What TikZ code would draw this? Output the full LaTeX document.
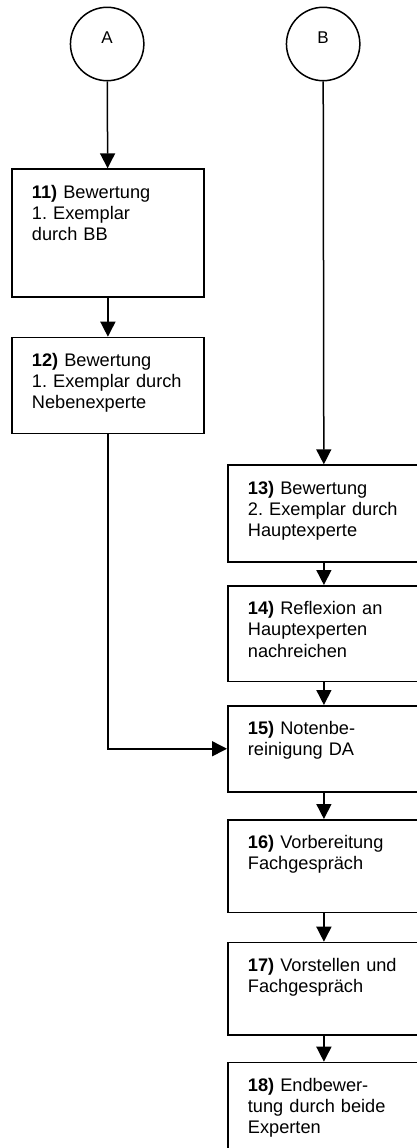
\documentclass[tikz,border=0pt]{standalone}
\usepackage{fontspec}
\setmainfont{Liberation Sans}
\frenchspacing
\usetikzlibrary{arrows.meta}

\tikzset{
  stepbox/.style={
    draw, rectangle, anchor=north west,
    text width=152pt, inner xsep=20.15pt, inner ysep=0pt,
    align=left, text height=29pt,
    font=\fontsize{18.2}{21.2}\selectfont
  },
  jumpnode/.style={
    draw, circle, minimum size=73.4pt, inner sep=0pt,
    text height=5pt, text depth=5pt,
    font=\fontsize{17}{20}\selectfont
  }
}

\begin{document}
\begin{tikzpicture}[x=1pt, y=-1pt, line width=1.5pt, >={Triangle[length=15pt,width=15pt]}]

\useasboundingbox (0,0) rectangle (417,1148);
\clip (0,0) rectangle (417,1148);

% Anschlusspunkte

\node[jumpnode] (A) at (107.15,44) {A};

\node[jumpnode] (B) at (323.15,44) {B};

% Schritte

\node[stepbox, text depth=98.7pt] (s11) at (11,168.3) {\textbf{11)} Bewertung\\1. Exemplar\\durch BB};

\node[stepbox, text depth=67pt] (s12) at (11,336.7) {\textbf{12)} Bewertung\\1.~Exemplar~durch\\Nebenexperte};

\node[stepbox, text depth=67.7pt] (s13) at (227,464.3) {\textbf{13)} Bewertung\\2.~Exemplar~durch\\Hauptexperte};

\node[stepbox, text depth=66.7pt] (s14) at (227,585) {\textbf{14)} Reflexion an\\Hauptexperten\\nachreichen};

\node[stepbox, text depth=57pt] (s15) at (227,705) {\textbf{15)} Notenbe-\\reinigung DA};

\node[stepbox, text depth=63.7pt] (s16) at (227,819) {\textbf{16)} Vorbereitung\\Fachgespräch};

\node[stepbox, text depth=63.3pt] (s17) at (227,941.7) {\textbf{17)}~Vorstellen~und\\Fachgespräch};

\node[stepbox, text depth=66pt] (s18) at (227,1061.7) {\textbf{18)} Endbewer-\\tung~durch~beide\\Experten};

% Pfeile

\draw[->] (A) -- (s11);

\draw[->] (s11) -- (s12);

\draw[->] (B) -- (s13);

\draw[->] (s13) -- (s14);

\draw[->] (s14) -- (s15);

\draw[->] (s15) -- (s16);

\draw[->] (s16) -- (s17);

\draw[->] (s17) -- (s18);

\draw[->] (s12.south) |- (s15.west);

\end{tikzpicture}
\end{document}
